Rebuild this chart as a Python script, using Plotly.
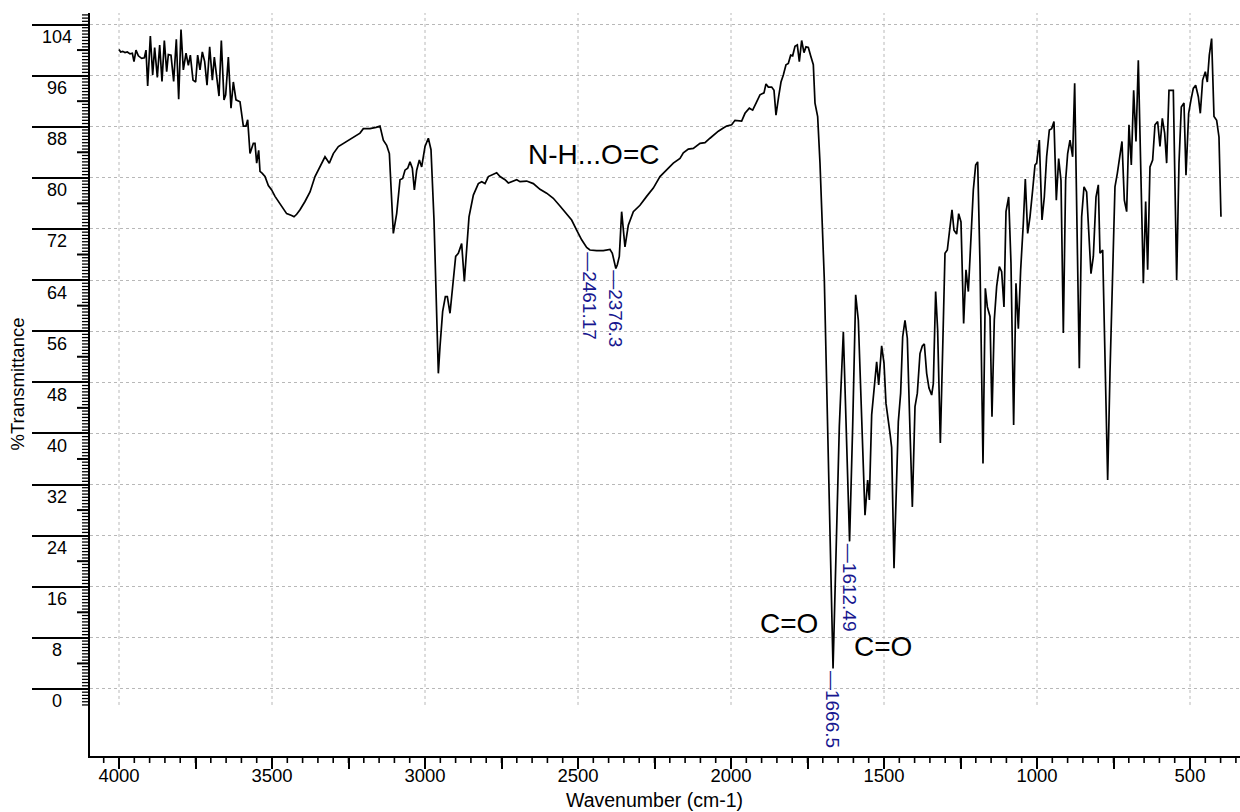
import plotly.graph_objects as go

# ---------------- data ----------------
wavenumber = [
    4000, 3994.6, 3988, 3980.4, 3972.8, 3964, 3956.4, 3951, 3944.5, 3936.8,
    3926, 3917.2, 3911.8, 3906.3, 3897.6, 3890, 3883.5, 3874.8, 3867.1, 3859.5,
    3851.9, 3844.2, 3838.8, 3830.1, 3821.4, 3812.7, 3805, 3797.4, 3789.8, 3781,
    3773.4, 3766.9, 3758.2, 3749.5, 3743, 3735.3, 3727.7, 3720.1, 3712.4, 3703.7,
    3695, 3688.5, 3673.2, 3665.6, 3656.9, 3651.4, 3642.7, 3634, 3626.4, 3617.7,
    3604.6, 3593.7, 3585, 3579.5, 3571.9, 3561, 3555.6, 3550.1, 3543.6, 3539.2,
    3531.7, 3522.9, 3512, 3501.1, 3490.2, 3468.4, 3452.1, 3435.8, 3428.1, 3419.4,
    3408.5, 3392.2, 3375.8, 3359.5, 3343.2, 3326.8, 3312.7, 3299.6, 3283.2, 3256,
    3234.2, 3212.4, 3201.6, 3179.8, 3160, 3147.1,
    3136.2, 3125.3, 3116.5, 3103.5, 3092.6, 3081.7, 3073, 3065.4, 3056.6, 3049,
    3041.4, 3034.8, 3027.2, 3018.5, 3010.9, 3000, 2989.1, 2980.4, 2970.6, 2964,
    2956.4, 2951, 2942.3, 2933.5, 2927, 2918.3, 2907.4, 2899.8, 2891.1, 2880.2,
    2871.4, 2863.8, 2856.2, 2842, 2825.7, 2814.8, 2803.9, 2793, 2782.1, 2765.8,
    2754.9, 2738.5, 2727.7, 2716.8, 2700.4, 2689.5, 2667.8,
    2646, 2624.2, 2602.5, 2580.7, 2558.9, 2537.1, 2520.8, 2504.4, 2488.1, 2471.7,
    2461.17, 2439.1, 2417.3, 2395.5, 2387.9, 2376.3, 2371.5, 2365, 2357.4, 2346.5,
    2335.6, 2319.2, 2297.5, 2275.7, 2253.9, 2232.1, 2210.3, 2188.5,
    2166.7, 2155.8, 2139.5, 2123.1, 2101.3, 2085, 2068.7, 2057.8, 2041.4, 2025.1,
    2014.2, 1997.9, 1987, 1965.2, 1954.3, 1940.1, 1929.2, 1916.2, 1905.3, 1892.2,
    1885.7, 1878, 1867.1, 1859.5, 1853, 1844.3, 1836.6, 1829, 1820.3, 1812.7,
    1805, 1798.5, 1790.9, 1783.3, 1776.7, 1769.1, 1761.5, 1755, 1747.3, 1739.7,
    1731, 1725.5, 1716.8, 1709.2, 1700.5, 1695,
    1666.5, 1646, 1632.9, 1624.2, 1612.49, 1602.4, 1592.6, 1583.9, 1573, 1562.1,
    1553.4, 1547.9, 1540.3, 1524, 1517.4, 1507.7, 1500, 1493.5, 1480.4, 1475,
    1467.3, 1453.2, 1445.6, 1439, 1431.4, 1423.8, 1415.1, 1407.4, 1398.7, 1391.1,
    1382.4, 1374.8, 1368.2, 1360.6, 1353, 1344.3, 1338.8, 1331.2, 1324.7, 1315.9,
    1308.3, 1300.7, 1293.1, 1284.3, 1277.8, 1271.3, 1262.6, 1256, 1248.4, 1239.7,
    1232.1, 1224.4, 1215.7, 1208.1, 1200.5, 1193.9, 1186.3, 1176.5, 1168.9, 1162.3,
    1153.6, 1147.1, 1139.5, 1131.8, 1123.1, 1115.5, 1107.9, 1101.3, 1092.6, 1085,
    1076.3, 1068.7, 1061, 1053.4, 1044.7, 1038.2, 1030.5, 1022.9, 1014.2, 1006.6,
    1001.1, 992.4, 983.7, 976.1, 968.5, 959.7, 952.1, 944.5, 936.9, 929.2,
    921.6, 914, 906.4, 899.8, 892.2, 883.5, 876.9, 869.3, 861.7, 854.1,
    846.4, 837.8, 829, 823.6, 815.9, 807.2, 799.6, 794.2, 785.4, 777.8,
    769.1, 761.5, 753.8, 745.2, 737.5, 728.8, 722.3, 714.6, 707, 699.4,
    691.8, 684.1, 676.5, 668.9, 661.3, 652.5, 644.9, 638.4, 630.8, 622.1,
    614.4, 605.7, 598.1, 590.5, 582.8, 576.3, 568.7, 554.5, 543.6, 536,
    528.4, 519.7, 513.1, 504.4, 496.8, 489.2, 481.5, 472.8, 466.3, 458.7,
    449.9, 443.4, 436.9, 429.3, 421.6, 412.9, 405.3, 398.8,
]

transmittance = [
    100.1, 99.7, 99.8, 99.6, 99.7, 99.4, 99.5, 98.2, 100.0, 99.1,
    98.7, 98.8, 100.0, 94.4, 102.2, 96.1, 100.4, 95.7, 100.8, 95.1,
    101.5, 96.6, 99.3, 99.2, 95.1, 101.7, 92.3, 103.2, 96.9, 99.5,
    97.6, 99.2, 95.3, 95.0, 99.2, 96.9, 99.7, 98.2, 94.5, 100.5,
    95.3, 98.9, 92.8, 101.5, 92.2, 93.0, 98.9, 90.9, 95.0, 92.2,
    91.9, 88.1, 88.1, 89.1, 83.8, 85.4, 85.4, 82.3, 84.3, 81.0,
    80.7, 80.2, 78.8, 78.1, 77.1, 75.5, 74.4, 74.1, 73.9, 74.3,
    75.0, 76.3, 77.8, 80.2, 81.7, 83.3, 82.3, 83.8, 84.9, 85.7,
    86.4, 87.0, 87.7, 87.7, 87.9, 88.1,
    85.9, 85.1, 83.8, 71.3, 74.4, 79.7, 79.9, 81.2, 81.5, 82.5,
    81.5, 78.1, 81.2, 82.8, 81.7, 84.9, 86.2, 84.4, 73.4, 63.0,
    49.4, 53.6, 59.1, 61.4, 61.4, 58.8, 64.5, 67.7, 68.2, 69.7,
    63.8, 69.2, 73.9, 77.3, 79.1, 79.4, 79.1, 80.2, 80.4, 80.8,
    80.2, 79.7, 79.2, 79.4, 79.7, 79.4, 79.5,
    79.1, 78.2, 77.6, 76.8, 75.6, 74.4, 73.4, 71.8, 70.3, 69.1,
    68.7, 68.6, 68.6, 68.8, 68.2, 65.8, 66.4, 67.7, 74.7, 69.2,
    72.6, 74.7, 75.7, 77.1, 78.4, 80.2, 81.2, 82.3,
    83.05, 83.9, 84.5, 84.6, 85.4, 85.5, 86.2, 86.7, 87.3, 87.8,
    88.1, 88.3, 89.0, 88.9, 90.1, 90.9, 90.6, 91.9, 93.0, 93.3,
    94.7, 94.2, 94.2, 93.7, 89.8, 92.7, 95.0, 96.1, 97.7, 97.9,
    99.2, 99.1, 100.6, 100.8, 98.2, 101.5, 99.6, 100.5, 100.4, 99.1,
    97.7, 91.7, 89.6, 82.3, 71.8, 64.0,
    3.2, 41.1, 55.9, 40.5, 23.1, 41.1, 61.7, 57.7, 41.1, 27.2,
    32.7, 29.6, 42.9, 51.2, 47.6, 53.7, 51.0, 44.7, 40.0, 37.8,
    18.9, 41.8, 46.3, 55.1, 57.7, 54.9, 40.5, 28.5, 44.2, 46.3,
    52.5, 53.7, 54.0, 49.4, 47.1, 46.0, 47.8, 62.2, 56.2, 38.5,
    53.1, 68.2, 68.7, 72.4, 75.0, 71.8, 71.2, 74.4, 73.1, 57.2,
    65.6, 62.2, 71.8, 78.1, 82.0, 82.5, 66.6, 35.3, 62.7, 59.8,
    58.3, 42.6, 57.8, 63.0, 66.1, 65.3, 59.8, 74.7, 77.0, 66.6,
    41.3, 63.5, 56.4, 65.6, 72.9, 79.8, 71.3, 73.9, 78.1, 82.0,
    82.3, 85.9, 73.4, 77.0, 83.3, 87.5, 87.7, 88.8, 76.5, 83.0,
    79.6, 55.7, 79.6, 83.8, 85.9, 83.3, 94.8, 69.2, 50.2, 73.9,
    78.6, 77.8, 70.8, 65.0, 67.7, 77.0, 78.9, 68.2, 68.7, 51.0,
    32.7, 49.4, 64.0, 78.6, 80.7, 83.6, 85.7, 76.5, 74.7, 88.3,
    82.0, 93.7, 85.7, 98.4, 82.3, 63.5, 76.3, 65.6, 81.7, 82.8,
    88.3, 88.8, 84.9, 89.3, 87.0, 82.3, 93.7, 93.7, 64.0, 82.3,
    91.1, 91.7, 80.4, 90.1, 92.2, 94.0, 94.5, 92.7, 90.1, 95.3,
    96.6, 95.0, 99.2, 101.8, 89.6, 89.0, 86.4, 73.9,
]

x_tick_values = [4000, 3750, 3500, 3250, 3000, 2750, 2500, 2250,
                 2000, 1750, 1500, 1250, 1000, 750, 500]
x_tick_labels = ["4000", "", "3500", "", "3000", "", "2500", "",
                 "2000", "", "1500", "", "1000", "", "500"]
x_minor_tick_values = list(range(350, 4100, 50))
x_grid_values = [4000, 3500, 3000, 2500, 2000, 1500, 1000, 500]

y_tick_values = [0, 8, 16, 24, 32, 40, 48, 56, 64, 72, 80, 88, 96, 104]
y_tick_labels = ["0", "8", "16", "24", "32", "40", "48", "56", "64",
                 "72", "80", "88", "96", "104"]
y_mid_tick_values = [4, 12, 20, 28, 36, 44, 52, 60, 68, 76, 84, 92, 100]
y_minor_tick_values = [k / 2 for k in range(-5, 212)]

peak_positions = [2461.17, 2376.3, 1612.49, 1666.5]
peak_labels = ["\u20142461.17", "\u20142376.3", "\u20141612.49", "\u20141666.5"]

band_texts = ["N-H...O=C", "C=O", "C=O"]
band_x = [2451, 1810, 1503]
band_y = [83.6, 10.2, 6.6]

x_title = "Wavenumber (cm-1)"
y_title = "%Transmittance"

# ---------------- style ----------------
FONT = "Liberation Sans, Arial, sans-serif"
W, H = 1240, 812
M_L, M_R, M_T, M_B = 90, 0, 13, 56
PLOT_W, PLOT_H = W - M_L - M_R, H - M_T - M_B
X_RANGE = [4094.8, 336.6]
Y_RANGE = [-10.49, 105.8]
GRID = "#b8b8b8"
BLUE = "#17178f"

fig = go.Figure()
fig.add_trace(go.Scatter(
    x=wavenumber, y=transmittance, mode="lines",
    line=dict(color="black", width=1.7), hoverinfo="x+y", showlegend=False,
))

fig.update_layout(
    width=W, height=H,
    margin=dict(l=M_L, r=M_R, t=M_T, b=M_B, pad=0),
    paper_bgcolor="white", plot_bgcolor="white",
    font=dict(family=FONT, color="black"),
    xaxis=dict(
        range=X_RANGE, autorange=False,
        tickmode="array", tickvals=x_tick_values, ticktext=x_tick_labels,
        ticks="outside", ticklen=11, tickwidth=1.5, tickcolor="black",
        ticklabelstandoff=-9,
        tickfont=dict(size=18.5, family=FONT, color="black"),
        showline=True, linecolor="black", linewidth=2,
        showgrid=False, zeroline=False,
    ),
    yaxis=dict(
        range=Y_RANGE, autorange=False,
        tickmode="array", tickvals=y_tick_values, ticktext=y_tick_labels,
        showticklabels=False,
        ticks="outside", ticklen=56, tickwidth=2, tickcolor="black",
        showline=True, linecolor="black", linewidth=2,
        showgrid=True, gridcolor=GRID, griddash="dot", gridwidth=1,
        zeroline=False,
    ),
)

shapes = []
# vertical dotted grid (stops just below 0 like the reference)
for v in x_grid_values:
    shapes.append(dict(type="line", xref="x", yref="y", x0=v, x1=v,
                       y0=-2.5, y1=Y_RANGE[1], layer="below",
                       line=dict(color=GRID, width=1, dash="dot")))

# secondary tick marks: value -> axis fraction, lengths in pixels
def y_frac(v):
    return (v - Y_RANGE[0]) / (Y_RANGE[1] - Y_RANGE[0])

def x_frac(v):
    return (v - X_RANGE[0]) / (X_RANGE[1] - X_RANGE[0])

for values, length, width in ((y_minor_tick_values, 8, 1.3), (y_mid_tick_values, 13, 2)):
    for v in values:
        shapes.append(dict(type="line", xref="paper", yref="paper",
                           x0=-length / PLOT_W, x1=-1 / PLOT_W,
                           y0=y_frac(v), y1=y_frac(v), layer="above",
                           line=dict(color="black", width=width)))
for v in x_minor_tick_values:
    shapes.append(dict(type="line", xref="paper", yref="paper",
                       x0=x_frac(v), x1=x_frac(v),
                       y0=-1 / PLOT_H, y1=-7 / PLOT_H, layer="above",
                       line=dict(color="black", width=1.6)))

annotations = []
# y tick labels, centred under their long tick marks
for v, lab in zip(y_tick_values, y_tick_labels):
    annotations.append(dict(
        xref="paper", x=0, xshift=-33.5, xanchor="center",
        yref="y", y=v, yshift=-12.5, yanchor="middle",
        text=lab, showarrow=False,
        font=dict(size=18, family=FONT, color="black")))

annotations.append(dict(
    xref="paper", x=0, xshift=-73, xanchor="center",
    yref="paper", y=0.5, yanchor="middle", textangle=-90,
    text=y_title, showarrow=False,
    font=dict(size=18.5, family=FONT, color="black")))
annotations.append(dict(
    xref="paper", x=0.4913, xanchor="center",
    yref="paper", y=0, yshift=-44, yanchor="middle",
    text=x_title, showarrow=False,
    font=dict(size=19.5, family=FONT, color="black")))

for p, lab in zip(peak_positions, peak_labels):
    level = transmittance[wavenumber.index(p)]
    annotations.append(dict(
        xref="x", x=p, xanchor="center", yref="y", y=level, yanchor="top",
        textangle=90, text=lab, showarrow=False,
        font=dict(size=19, family=FONT, color=BLUE)))

for t, bx, by in zip(band_texts, band_x, band_y):
    annotations.append(dict(
        xref="x", x=bx, yref="y", y=by, xanchor="center", yanchor="middle",
        text=t, showarrow=False,
        font=dict(size=28, family=FONT, color="black")))

fig.update_layout(shapes=shapes, annotations=annotations)

fig.write_html("out.html")
